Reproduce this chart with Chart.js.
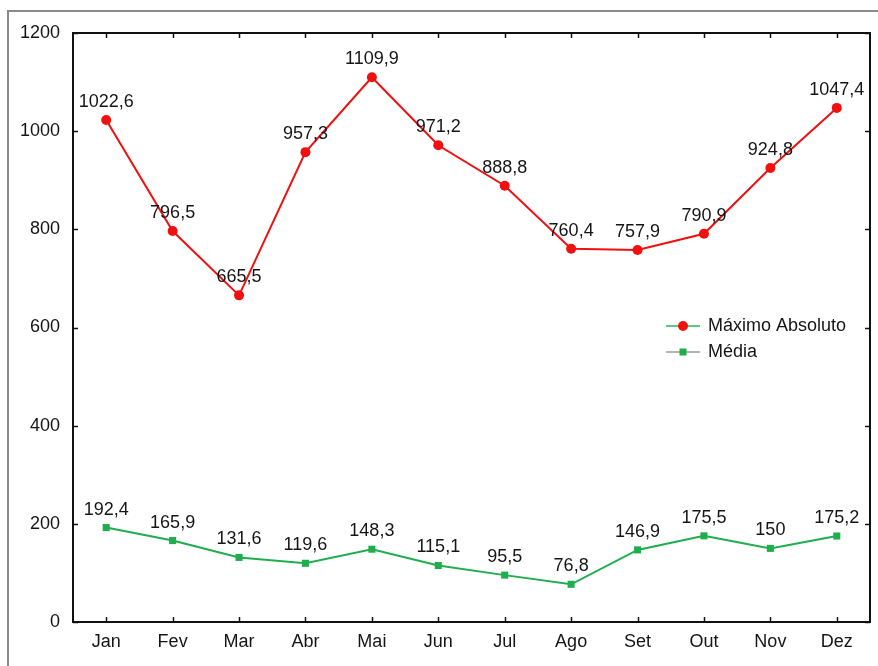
<!DOCTYPE html>
<html>
<head>
<meta charset="utf-8">
<script src="https://cdn.jsdelivr.net/npm/chart.js@4/dist/chart.umd.min.js"></script>
<style>
  html, body { margin: 0; padding: 0; background: #fff; }
  #wrap { position: relative; width: 878px; height: 666px; overflow: hidden; }
  #frame { position: absolute; left: 7px; top: 10px; width: 900px; height: 700px; border: 2px solid #8a8a8a; box-sizing: border-box; }
  #c { position: absolute; left: 0; top: 0; }
</style>
</head>
<body>
<div id="wrap">
  <div id="frame"></div>
  <canvas id="c" width="878" height="666"></canvas>
</div>
<script>
const months = ['Jan', 'Fev', 'Mar', 'Abr', 'Mai', 'Jun', 'Jul', 'Ago', 'Set', 'Out', 'Nov', 'Dez'];
const maximoAbsoluto = [1022.6, 796.5, 665.5, 957.3, 1109.9, 971.2, 888.8, 760.4, 757.9, 790.9, 924.8, 1047.4];
const media = [192.4, 165.9, 131.6, 119.6, 148.3, 115.1, 95.5, 76.8, 146.9, 175.5, 150, 175.2];
const yTicks = [0, 200, 400, 600, 800, 1000, 1200];
const seriesNames = ['Máximo Absoluto', 'Média'];

const FONT = '"Liberation Sans", Arial, sans-serif';
const RED = '#f01010';
const GREEN = '#1fae4e';
const TEXT = '#151515';

const framePlugin = {
  id: 'frame',
  afterDatasetsDraw(chart) {
    const ctx = chart.ctx;
    const a = chart.chartArea;
    const xs = chart.scales.x, ys = chart.scales.y;
    ctx.save();
    ctx.strokeStyle = '#111';
    ctx.lineWidth = 2;
    ctx.strokeRect(a.left, a.top, a.right - a.left, a.bottom - a.top);
    ctx.lineWidth = 1.5;
    ctx.beginPath();
    for (let i = 0; i < months.length; i++) {
      const x = Math.round(xs.getPixelForValue(i)) + 0.5;
      ctx.moveTo(x, a.bottom); ctx.lineTo(x, a.bottom - 5);
      ctx.moveTo(x, a.top); ctx.lineTo(x, a.top + 5);
    }
    yTicks.forEach(v => {
      const y = Math.round(ys.getPixelForValue(v)) + 0.5;
      ctx.moveTo(a.left, y); ctx.lineTo(a.left + 5, y);
      ctx.moveTo(a.right, y); ctx.lineTo(a.right - 5, y);
    });
    ctx.stroke();

    // data labels
    ctx.fillStyle = TEXT;
    ctx.font = '18px ' + FONT;
    ctx.textAlign = 'center';
    ctx.textBaseline = 'middle';
    chart.data.datasets.forEach((ds, di) => {
      const meta = chart.getDatasetMeta(di);
      meta.data.forEach((pt, i) => {
        const txt = String(ds.data[i]).replace('.', ',');
        ctx.fillText(txt, pt.x, pt.y - 18);
      });
    });

    // legend
    const lx0 = 666, lx1 = 700, tx = 708;
    const rows = [
      { y: 326, line: '#2bb35a', fill: RED, style: 'circle', label: seriesNames[0] },
      { y: 352, line: '#9a9a9a', fill: GREEN, style: 'rect', label: seriesNames[1] }
    ];
    rows.forEach(r => {
      ctx.strokeStyle = r.line;
      ctx.lineWidth = 1.5;
      ctx.beginPath(); ctx.moveTo(lx0, r.y); ctx.lineTo(lx1, r.y); ctx.stroke();
      ctx.fillStyle = r.fill;
      const cx = (lx0 + lx1) / 2;
      if (r.style === 'circle') {
        ctx.beginPath(); ctx.arc(cx, r.y, 5, 0, Math.PI * 2); ctx.fill();
      } else {
        ctx.fillRect(cx - 3.5, r.y - 3.5, 7, 7);
      }
      ctx.fillStyle = TEXT;
      ctx.textAlign = 'left';
      ctx.font = '18px ' + FONT;
      ctx.fillText(r.label, tx, r.y);
    });
    ctx.restore();
  }
};

new Chart(document.getElementById('c'), {
  type: 'line',
  data: {
    labels: months,
    datasets: [
      {
        label: seriesNames[0],
        data: maximoAbsoluto,
        borderColor: RED,
        backgroundColor: RED,
        borderWidth: 2,
        pointStyle: 'circle',
        pointRadius: 5,
        pointBorderWidth: 0,
        tension: 0,
        clip: false
      },
      {
        label: seriesNames[1],
        data: media,
        borderColor: GREEN,
        backgroundColor: GREEN,
        borderWidth: 2,
        pointStyle: 'rect',
        pointRadius: 5,
        pointBorderWidth: 0,
        tension: 0,
        clip: false
      }
    ]
  },
  options: {
    responsive: false,
    animation: false,
    devicePixelRatio: 1,
    layout: { padding: { left: 0, top: 33, right: 8, bottom: 0 } },
    plugins: { legend: { display: false }, tooltip: { enabled: false } },
    scales: {
      x: {
        offset: true,
        grid: { display: false, drawTicks: false },
        border: { display: false },
        ticks: { color: TEXT, font: { family: FONT, size: 18 }, padding: 9, maxRotation: 0, autoSkip: false },
        afterFit: s => { s.height = 44; }
      },
      y: {
        min: 0, max: 1200,
        grid: { display: false, drawTicks: false },
        border: { display: false },
        afterBuildTicks: s => { s.ticks = yTicks.map(v => ({ value: v })); },
        ticks: { color: TEXT, font: { family: FONT, size: 18 }, padding: 13, callback: v => String(v) },
        afterFit: s => { s.width = 73; }
      }
    }
  },
  plugins: [framePlugin]
});
</script>
</body>
</html>
